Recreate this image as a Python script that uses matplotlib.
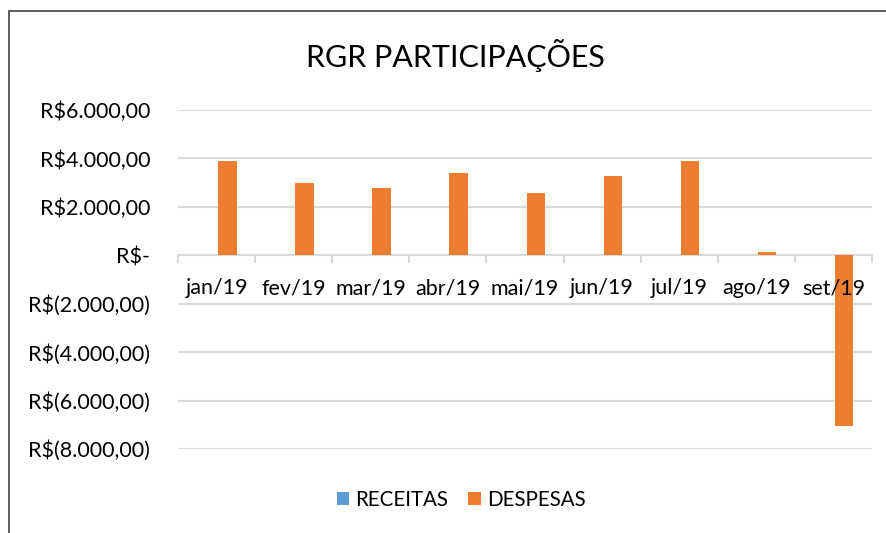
import matplotlib
matplotlib.use("Agg")
import matplotlib.pyplot as plt
from matplotlib.patches import Rectangle
from matplotlib.ticker import FixedLocator
from matplotlib.transforms import offset_copy

plt.rcParams['font.family'] = ['Lato', 'DejaVu Sans']

categories = ["jan/19", "fev/19", "mar/19", "abr/19", "mai/19", "jun/19", "jul/19", "ago/19", "set/19"]
receitas = [0, 0, 0, 0, 0, 0, 0, 0, 0]
despesas = [3900, 3000, 2770, 3390, 2560, 3260, 3880, 125, -7050]
ytick_vals = [6000, 4000, 2000, 0, -2000, -4000, -6000, -8000]
ytick_labels = ["R$6.000,00", "R$4.000,00", "R$2.000,00", "R$-", "R$(2.000,00)",
                "R$(4.000,00)", "R$(6.000,00)", "R$(8.000,00)"]

W, H = 887, 533
fig = plt.figure(figsize=(W / 100, H / 100), dpi=100)
ax = fig.add_axes([178 / W, 1 - 449 / H, (872 - 178) / W, (449 - 110) / H])

# Chart border (partially cropped in reference)
fig.add_artist(Rectangle((9 / W, -0.1), 1.2, 1 - 11 / H + 0.1, transform=fig.transFigure,
                         fill=False, edgecolor="#404040", linewidth=1.2))

n = len(categories)
xs = list(range(n))
bw = 1 / (2 + 2.19)
ax.bar([x - bw for x in xs], receitas, width=bw, align='edge', color="#5B9BD5", label="RECEITAS", zorder=3)
ax.bar([x + 0.02 for x in xs], despesas, width=bw, align='edge', color="#ED7D31", label="DESPESAS", zorder=3)

ax.set_xlim(-0.5, n - 0.5)
ax.set_ylim(-8000, 6000)
ax.set_yticks(ytick_vals)
ax.set_yticklabels(ytick_labels, fontsize=15.5)
ax.tick_params(axis='y', length=0, pad=20)
ax.grid(axis='y', color="#d9d9d9", linewidth=1.5, zorder=0)
ax.set_axisbelow(True)

for s in ['top', 'right', 'left']:
    ax.spines[s].set_visible(False)
ax.spines['bottom'].set_position(('data', 0))
ax.spines['bottom'].set_color("#d9d9d9")
ax.spines['bottom'].set_linewidth(1.5)

ax.xaxis.set_major_locator(FixedLocator([x - 0.5 for x in range(n + 1)]))
ax.set_xticklabels([""] * (n + 1))
ax.tick_params(axis='x', which='major', length=6, width=1.5, color="#d9d9d9", direction='out')

trans = offset_copy(ax.transData, fig=fig, x=0, y=-33, units='dots')
for x, lab in zip(xs, categories):
    ax.text(x, 0, lab, transform=trans, ha='center', va='center', fontsize=15.5, zorder=5)

fig.text(455 / W, 1 - 55 / H, "RGR PARTICIPAÇÕES", ha='center', va='center', fontsize=22, color="#000000")

handles, labels = ax.get_legend_handles_labels()
fig.legend(handles, labels, loc='center', bbox_to_anchor=(461 / W, 1 - 500 / H), ncol=2,
           frameon=False, fontsize=14.8, handlelength=0.62, handleheight=0.62, columnspacing=0.95,
           handletextpad=0.3)

fig.savefig("out.png", dpi=100)
